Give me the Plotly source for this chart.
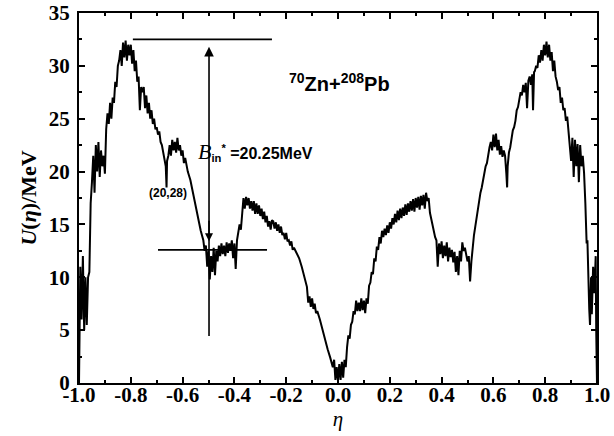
import plotly.graph_objects as go

# potential energy curve U(eta)
eta = [-1.00, -0.995, -0.99, -0.985, -0.98, -0.975, -0.97, -0.965, -0.96, -0.955, -0.95, -0.945, -0.94, -0.935, -0.93, -0.925,
       -0.92, -0.915, -0.91, -0.905, -0.90, -0.895, -0.89, -0.885, -0.88, -0.875, -0.87, -0.865, -0.86, -0.855, -0.85,
       -0.845, -0.84, -0.835, -0.83, -0.825, -0.82, -0.815, -0.81, -0.805, -0.80, -0.795, -0.79, -0.785, -0.78, -0.775,
       -0.77, -0.765, -0.76, -0.755, -0.75, -0.745, -0.74, -0.735, -0.73, -0.725, -0.72, -0.715, -0.71, -0.705, -0.70,
       -0.695, -0.69, -0.685, -0.68, -0.675, -0.67, -0.665, -0.662, -0.66, -0.655, -0.65, -0.645, -0.64, -0.635, -0.63,
       -0.625, -0.62, -0.615, -0.61, -0.605, -0.60, -0.595, -0.59, -0.58, -0.57, -0.56, -0.55, -0.54, -0.53, -0.52,
       -0.515, -0.51, -0.505, -0.50, -0.495, -0.49, -0.485, -0.48, -0.475, -0.47, -0.465, -0.46, -0.455, -0.45, -0.445,
       -0.44, -0.435, -0.43, -0.425, -0.42, -0.415, -0.41, -0.405, -0.40, -0.395, -0.39, -0.385, -0.38, -0.375, -0.37,
       -0.365, -0.36, -0.355, -0.35, -0.345, -0.34, -0.335, -0.33, -0.325, -0.32, -0.315, -0.31, -0.305, -0.30, -0.295,
       -0.29, -0.285, -0.28, -0.275, -0.27, -0.265, -0.26, -0.255, -0.25, -0.245, -0.24, -0.235, -0.23, -0.225, -0.22,
       -0.215, -0.21, -0.205, -0.20, -0.195, -0.19, -0.185, -0.18, -0.175, -0.17, -0.16, -0.15, -0.14, -0.13, -0.12,
       -0.115, -0.11, -0.105, -0.10, -0.095, -0.09, -0.085, -0.08, -0.07, -0.06, -0.05, -0.04, -0.03, -0.02, -0.015,
       -0.01, -0.005, 0.00, 0.005, 0.01, 0.015, 0.02, 0.025, 0.03, 0.035, 0.04, 0.045, 0.05, 0.055, 0.06, 0.065, 0.07,
       0.075, 0.08, 0.085, 0.09, 0.095, 0.10, 0.105, 0.11, 0.115, 0.12, 0.125, 0.13, 0.135, 0.14, 0.145, 0.15, 0.155,
       0.16, 0.165, 0.17, 0.175, 0.18, 0.185, 0.19, 0.195, 0.20, 0.205, 0.21, 0.215, 0.22, 0.225, 0.23, 0.235, 0.24,
       0.245, 0.25, 0.255, 0.26, 0.265, 0.27, 0.275, 0.28, 0.285, 0.29, 0.295, 0.30, 0.305, 0.31, 0.315, 0.32, 0.325,
       0.33, 0.335, 0.34, 0.345, 0.35, 0.355, 0.36, 0.365, 0.37, 0.375, 0.38, 0.385, 0.39, 0.395, 0.40, 0.405, 0.41,
       0.415, 0.42, 0.425, 0.43, 0.435, 0.44, 0.445, 0.45, 0.455, 0.46, 0.465, 0.47, 0.475, 0.48, 0.485, 0.49, 0.50,
       0.505, 0.51, 0.515, 0.52, 0.525, 0.53, 0.535, 0.54, 0.545, 0.55, 0.555, 0.56, 0.565, 0.57, 0.575, 0.58, 0.585,
       0.59, 0.595, 0.60, 0.605, 0.61, 0.615, 0.62, 0.625, 0.63, 0.635, 0.64, 0.645, 0.65, 0.653, 0.655, 0.66, 0.665,
       0.67, 0.675, 0.68, 0.685, 0.69, 0.695, 0.70, 0.705, 0.71, 0.715, 0.72, 0.725, 0.73, 0.735, 0.74, 0.745, 0.75,
       0.753, 0.757, 0.76, 0.765, 0.77, 0.775, 0.78, 0.785, 0.79, 0.795, 0.80, 0.805, 0.81, 0.815, 0.82, 0.825, 0.83,
       0.835, 0.84, 0.845, 0.85, 0.855, 0.86, 0.865, 0.87, 0.875, 0.88, 0.885, 0.89, 0.895, 0.90, 0.905, 0.91, 0.915,
       0.92, 0.925, 0.93, 0.935, 0.94, 0.945, 0.95, 0.955, 0.96, 0.963, 0.965, 0.97, 0.973, 0.977, 0.98, 0.985, 0.99,
       0.995, 0.997, 1.00]

U = [0.0, 11.0, 6.0, 12.0, 5.0, 10.0, 5.5, 10.0, 10.5, 17.0, 19.0, 21.5, 18.0, 22.5, 20.0, 22.8,
     19.5, 22.0, 20.5, 21.5, 19.8, 24.0, 25.5, 24.5, 26.5, 25.0, 27.0, 26.5, 28.5, 28.0, 30.0,
     30.5, 31.5, 30.0, 32.2, 30.8, 32.4, 30.5, 32.0, 31.0, 32.0, 30.2, 31.5, 29.5, 30.5, 28.5,
     29.0, 25.8, 28.0, 27.5, 28.0, 26.0, 27.2, 25.5, 26.5, 25.0, 25.8, 24.5, 25.0, 24.0, 24.2,
     23.5, 23.8, 22.8, 22.5, 21.8, 21.5, 20.5, 18.5, 21.0, 21.5, 22.5, 21.5, 23.0, 22.0, 22.8,
     21.8, 23.2, 22.0, 22.5, 21.5, 22.0, 20.8, 21.3, 20.0, 19.2, 18.0, 16.8, 15.5, 14.4, 13.5,
     12.5, 13.0, 11.0, 12.5, 9.8, 12.0, 10.5, 12.8, 10.2, 12.5, 11.5, 13.0, 12.0, 13.2, 12.2,
     13.0, 12.0, 13.3, 12.3, 13.2, 12.5, 13.5, 11.8, 13.2, 10.8, 13.5, 14.5, 15.0, 14.5, 16.0,
     17.5, 16.5, 17.6, 16.8, 17.5, 16.5, 17.2, 16.3, 17.2, 16.0, 17.0, 16.0, 16.8, 15.8, 16.5,
     15.5, 16.2, 15.2, 15.8, 14.8, 15.3, 14.5, 15.4, 15.3, 14.6, 15.2, 14.4, 15.0, 14.2, 14.8,
     14.0, 14.2, 13.6, 14.2, 13.4, 13.5, 13.0, 13.4, 12.6, 12.8, 12.3, 11.8, 11.0, 10.0, 9.1,
     7.6, 8.2, 7.2, 8.0, 7.0, 7.5, 6.6, 6.8, 6.0, 5.0, 4.2, 3.2, 2.4, 1.5, 2.2,
     0.3, 1.5, 0.2, 1.8, 0.3, 2.0, 0.5, 2.2, 1.5, 3.4, 4.5, 4.2, 5.5, 5.8, 6.8, 6.5, 7.8,
     6.8, 7.6, 6.8, 8.0, 6.9, 7.8, 6.6, 8.0, 7.5, 9.2, 9.5, 10.5, 10.3, 11.8, 11.5, 12.9, 12.6,
     13.8, 13.2, 14.4, 13.8, 14.6, 14.0, 14.9, 14.2, 15.2, 14.6, 15.6, 15.0, 16.0, 15.2, 16.3, 15.4, 16.5,
     15.6, 16.6, 15.8, 16.9, 15.9, 17.0, 16.2, 17.2, 16.3, 17.4, 16.2, 17.5, 16.6, 17.6, 16.4, 17.7, 16.8,
     17.8, 16.5, 18.0, 17.2, 17.5, 16.1, 15.5, 14.8, 14.2, 13.8, 13.5, 11.0, 13.2, 12.2, 13.4, 11.8, 13.0,
     12.0, 13.3, 11.5, 12.8, 11.9, 12.6, 11.4, 12.4, 10.5, 12.0, 10.2, 12.5, 11.5, 13.3, 12.5, 12.8, 11.5,
     12.0, 9.6, 11.5, 12.9, 14.0, 14.8, 15.7, 16.5, 17.2, 18.0, 18.5, 19.3, 19.8, 20.5, 20.8, 21.8, 22.3,
     22.8, 22.0, 23.5, 22.3, 23.6, 22.0, 23.0, 21.6, 22.4, 21.4, 22.0, 21.5, 19.8, 18.5, 20.5, 21.8, 22.3,
     23.2, 23.9, 24.2, 24.8, 25.8, 26.1, 26.8, 27.5, 27.2, 28.2, 27.5, 28.4, 26.0, 28.6, 29.0, 28.2, 29.2,
     25.8, 29.4, 29.5, 30.0, 29.8, 31.0, 30.3, 31.5, 30.5, 32.0, 31.0, 32.3, 30.8, 32.0, 30.5, 31.3, 29.5,
     30.5, 29.0, 28.5, 27.7, 28.0, 26.5, 27.0, 25.8, 26.0, 24.8, 25.2, 23.8, 23.0, 21.0, 23.2, 19.5, 23.0,
     20.5, 22.6, 19.0, 22.5, 20.5, 21.5, 19.9, 17.0, 13.2, 13.5, 10.5, 7.0, 5.5, 10.0, 6.5, 11.0, 8.5,
     12.0, 5.0, 0.0]

x_ticks = [-1.0, -0.8, -0.6, -0.4, -0.2, 0.0, 0.2, 0.4, 0.6, 0.8, 1.0]
x_tick_text = ["-1.0", "-0.8", "-0.6", "-0.4", "-0.2", "0.0", "0.2", "0.4", "0.6", "0.8", "1.0"]
y_ticks = [0, 5, 10, 15, 20, 25, 30, 35]

# annotation geometry (data units)
top_line = ([-0.792, -0.255], [32.5, 32.5])
low_line = ([-0.695, -0.274], [12.6, 12.6])
arrow_x = -0.498
arrow_y = (4.3, 31.8)

fig = go.Figure()
fig.add_trace(go.Scatter(x=eta, y=U, mode="lines",
                         line=dict(color="black", width=2.0), showlegend=False, hoverinfo="skip"))

fig.add_shape(type="line", xref="x", yref="y", x0=top_line[0][0], x1=top_line[0][1],
              y0=top_line[1][0], y1=top_line[1][1], line=dict(color="black", width=1.8))
fig.add_shape(type="line", xref="x", yref="y", x0=low_line[0][0], x1=low_line[0][1],
              y0=low_line[1][0], y1=low_line[1][1], line=dict(color="black", width=1.8))

# vertical double arrow
fig.add_annotation(x=arrow_x, y=arrow_y[1], ax=arrow_x, ay=arrow_y[0], xref="x", yref="y",
                   axref="x", ayref="y", showarrow=True, arrowhead=2, arrowsize=1.2,
                   arrowwidth=1.6, arrowcolor="black", text="")
fig.add_annotation(x=arrow_x, y=13.4, ax=arrow_x, ay=15.5, xref="x", yref="y",
                   axref="x", ayref="y", showarrow=True, arrowhead=2, arrowsize=1.0,
                   arrowwidth=1.6, arrowcolor="black", text="")

sans = "Liberation Sans, Arial, sans-serif"
serif = "Liberation Serif, Times New Roman, serif"

fig.add_annotation(x=0.005, y=28.4, xref="x", yref="y", showarrow=False,
                   text="<sup>70</sup>Zn+<sup>208</sup>Pb",
                   font=dict(family=sans, size=20, color="black", weight="bold"))
fig.add_annotation(x=-0.318, y=21.9, xref="x", yref="y", showarrow=False,
                   text="<span style='font-family:Liberation Serif;font-style:italic;font-weight:normal;font-size:22px'>B</span><sub>in</sub><sup>*</sup> =20.25MeV",
                   font=dict(family=sans, size=16, color="black", weight="bold"))
fig.add_annotation(x=-0.656, y=18.0, xref="x", yref="y", showarrow=False,
                   text="(20,28)",
                   font=dict(family=sans, size=12, color="black", weight="bold"))

axis_common = dict(showline=True, linecolor="black", linewidth=2, mirror="ticks",
                   ticks="inside", ticklen=6, tickwidth=1.5, tickcolor="black",
                   showgrid=False, zeroline=False, automargin=False,
                   tickfont=dict(family=serif, size=21, color="black", weight="bold"))

fig.update_xaxes(range=[-1.0, 1.0], tickvals=x_ticks, ticktext=x_tick_text,
                 ticklabelstandoff=-8,
                 minor=dict(dtick=0.1, tick0=0, ticks="inside", ticklen=3, tickcolor="black"),
                 title=dict(text="<i>η</i>", font=dict(family=serif, size=21, color="black"), standoff=5),
                 **axis_common)
fig.update_yaxes(range=[0, 35], tickvals=y_ticks, ticklabelstandoff=3,
                 minor=dict(dtick=2.5, tick0=0, ticks="inside", ticklen=3, tickcolor="black"),
                 title=dict(text="<b><i>U</i>(<i>η</i>)/MeV</b>", font=dict(family=serif, size=22, color="black"), standoff=6),
                 **axis_common)

fig.update_layout(width=614, height=436, margin=dict(l=79, r=17, t=13, b=53),
                  plot_bgcolor="white", paper_bgcolor="white")

fig.write_html("out.html")
